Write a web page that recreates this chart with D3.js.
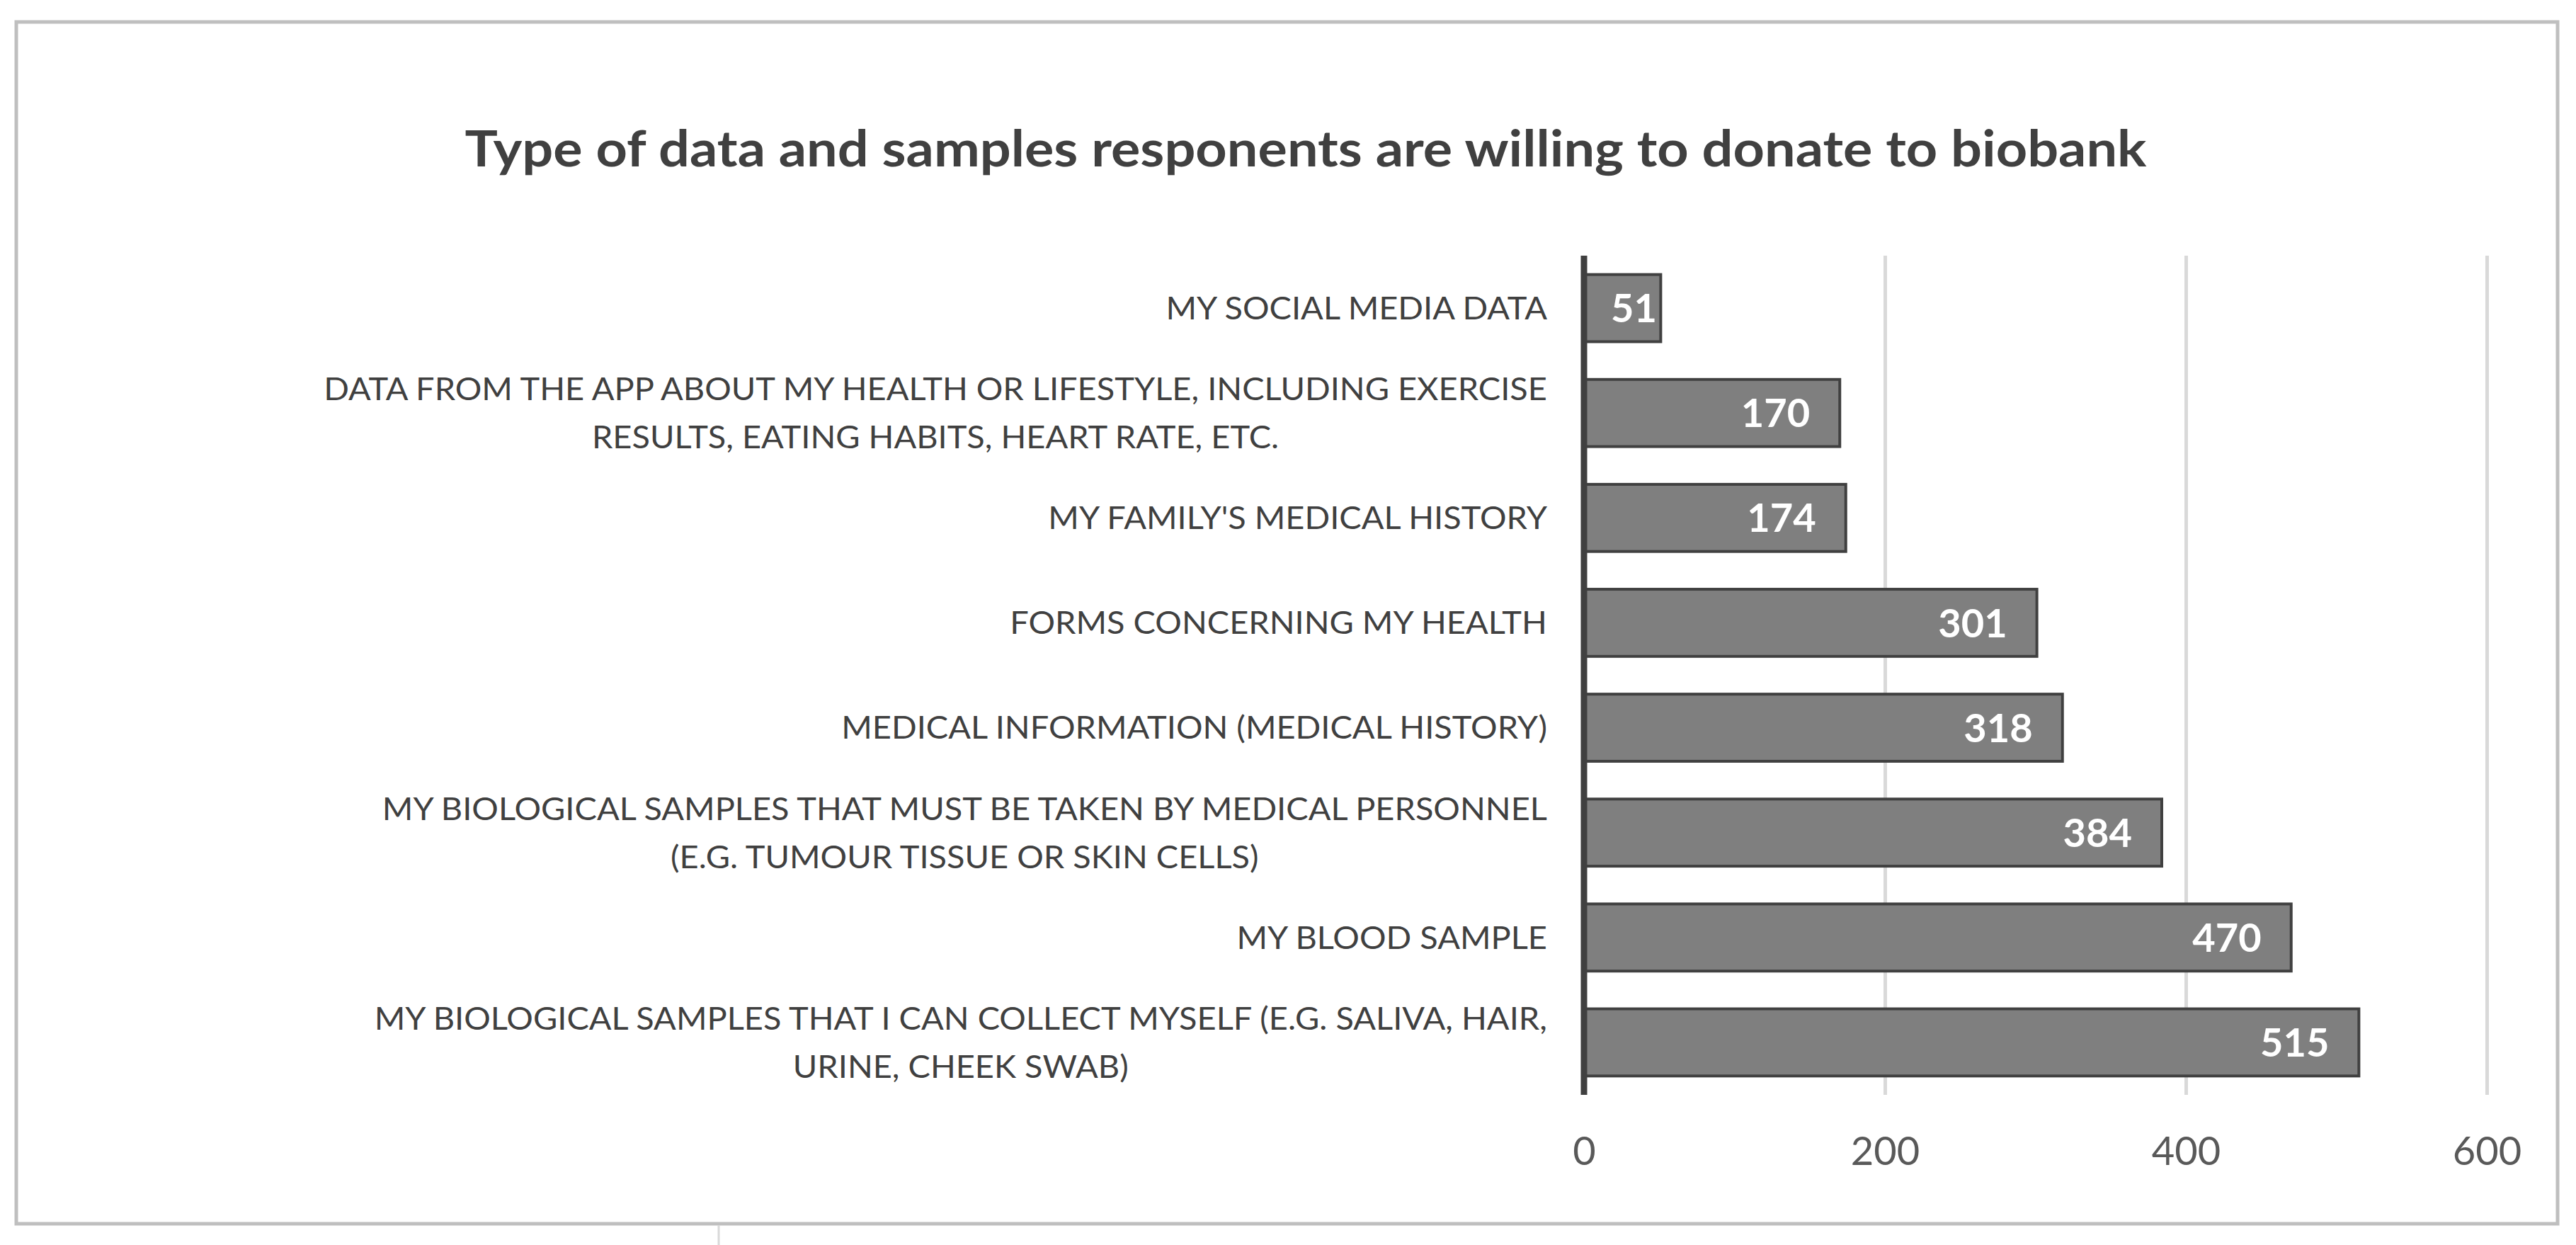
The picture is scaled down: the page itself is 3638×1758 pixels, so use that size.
<!DOCTYPE html>
<html>
<head>
<meta charset="utf-8">
<script src="https://cdn.jsdelivr.net/npm/d3@7"></script>
<style>
  body { margin: 0; background: #fff; }
  text { font-family: Lato, "Open Sans", sans-serif; }
</style>
</head>
<body>
<div id="chart"></div>
<script>
const svgWidth = 3638;
const svgHeight = 1758;

// data, top bar first
const categories = [
  ["MY SOCIAL MEDIA DATA"],
  ["DATA FROM THE APP ABOUT MY HEALTH OR LIFESTYLE, INCLUDING EXERCISE", "RESULTS, EATING HABITS, HEART RATE, ETC."],
  ["MY FAMILY'S MEDICAL HISTORY"],
  ["FORMS CONCERNING MY HEALTH"],
  ["MEDICAL INFORMATION (MEDICAL HISTORY)"],
  ["MY BIOLOGICAL SAMPLES THAT MUST BE TAKEN BY MEDICAL PERSONNEL", "(E.G. TUMOUR TISSUE OR SKIN CELLS)"],
  ["MY BLOOD SAMPLE"],
  ["MY BIOLOGICAL SAMPLES THAT I CAN COLLECT MYSELF (E.G. SALIVA, HAIR,", "URINE, CHEEK SWAB)"]
];
const values = [51, 170, 174, 301, 318, 384, 470, 515];
const xTicks = [0, 200, 400, 600];
const title = "Type of data and samples responents are willing to donate to biobank";

var svg = d3.select("#chart")
  .append("svg")
  .attr("width", svgWidth)
  .attr("height", svgHeight);

// outer frame
svg.append("rect")
  .attr("x", 23).attr("y", 31)
  .attr("width", 3589).attr("height", 1697)
  .attr("fill", "none")
  .attr("stroke", "#bfbfbf")
  .attr("stroke-width", 5);

svg.append("line")
  .attr("x1", 1015).attr("x2", 1015)
  .attr("y1", 1730).attr("y2", 1758)
  .attr("stroke", "#d9d9d9")
  .attr("stroke-width", 3);

// title
svg.append("text")
  .attr("x", 1844)
  .attr("y", 235)
  .attr("text-anchor", "middle")
  .attr("font-size", 71)
  .attr("font-weight", "bold")
  .attr("fill", "#404040")
  .attr("textLength", 2375)
  .attr("lengthAdjust", "spacingAndGlyphs")
  .text(title);

var plotTop = 361, plotBottom = 1546;

var xScale = d3.scaleLinear()
  .domain([0, 600])
  .range([2237, 3512]);

var yScale = d3.scaleBand()
  .domain(d3.range(values.length))
  .range([plotTop, plotBottom])
  .paddingInner(0.36)
  .paddingOuter(0.18);

// gridlines + tick labels
var xAxis = svg.append("g")
  .attr("transform", `translate(0, ${plotBottom})`)
  .call(d3.axisBottom(xScale)
    .tickValues(xTicks)
    .tickSize(-(plotBottom - plotTop))
    .tickPadding(59));

xAxis.select(".domain").remove();
xAxis.selectAll("line")
  .attr("stroke", "#d9d9d9")
  .attr("stroke-width", 5);
xAxis.selectAll("text")
  .attr("font-size", 56)
  .attr("fill", "#595959");

// bars
svg.append("g")
  .selectAll("rect")
  .data(values)
  .enter()
  .append("rect")
  .attr("x", xScale(0))
  .attr("y", (d, i) => yScale(i))
  .attr("width", d => xScale(d) - xScale(0))
  .attr("height", yScale.bandwidth())
  .attr("fill", "#7f7f7f")
  .attr("stroke", "#404040")
  .attr("stroke-width", 4);

// vertical axis line
svg.append("line")
  .attr("x1", xScale(0)).attr("x2", xScale(0))
  .attr("y1", plotTop).attr("y2", plotBottom)
  .attr("stroke", "#404040")
  .attr("stroke-width", 9);

// value labels, inside end
svg.append("g")
  .selectAll("text")
  .data(values)
  .enter()
  .append("text")
  .attr("x", d => Math.max(xScale(d) - 42, xScale(0) + 103))
  .attr("y", (d, i) => yScale(i) + yScale.bandwidth() / 2)
  .attr("dy", "0.36em")
  .attr("text-anchor", "end")
  .attr("font-size", 56)
  .attr("font-weight", "bold")
  .attr("fill", "#ffffff")
  .text(d => d);

// category labels: block right aligned, lines centred to each other
var labelRight = 2185;
var lineGap = 68;
var labelGroup = svg.append("g");

var labels = labelGroup.selectAll("g")
  .data(categories)
  .enter()
  .append("g");

labels.each(function(lines, i) {
  var g = d3.select(this);
  var cy = yScale(i) + yScale.bandwidth() / 2;
  lines.forEach(function(line, j) {
    g.append("text")
      .attr("y", cy + (j - (lines.length - 1) / 2) * lineGap)
      .attr("dy", "0.36em")
      .attr("text-anchor", "middle")
      .attr("font-size", 44)
      .attr("fill", "#404040")
      .text(line);
  });
});

var widest = 0;
labels.each(function() {
  var w = 0;
  d3.select(this).selectAll("text").each(function() {
    w = Math.max(w, this.getComputedTextLength());
  });
  widest = Math.max(widest, w);
  d3.select(this).selectAll("text").attr("x", -w / 2);
});

// squeeze to match the narrow original face
var k = 1728 / widest;
labelGroup.attr("transform", `translate(${labelRight}, 0) scale(${k}, 1)`);
</script>
</body>
</html>
